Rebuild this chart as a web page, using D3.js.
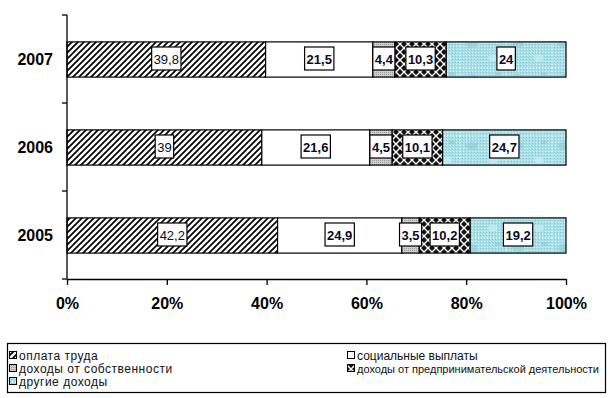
<!DOCTYPE html>
<html lang="ru">
<head>
  <meta charset="UTF-8">
  <title>Структура доходов</title>
  <script src="https://d3js.org/d3.v7.min.js"></script>
  <style>
    body { margin: 0; background: #fff; }
    svg { display: block; font-family: "Liberation Sans", Arial, sans-serif; }
  </style>
</head>
<body>
<div class="main"></div>
<script>

  // data
  const years = ["2007", "2006", "2005"];
  const seriesNames = ["оплата труда", "социальные выплаты", "доходы от собственности",
    "доходы от предпринимательской деятельности", "другие доходы"];
  const wages = [39.8, 39, 42.2];
  const social = [21.5, 21.6, 24.9];
  const property = [4.4, 4.5, 3.5];
  const business = [10.3, 10.1, 10.2];
  const other = [24, 24.7, 19.2];
  const xTicks = [0, 0.2, 0.4, 0.6, 0.8, 1];

  const seriesKeys = ["wages", "social", "property", "business", "other"];
  const fills = ["url(#hatch)", "#ffffff", "url(#dots)", "url(#diamonds)", "url(#water)"];

  var rows = years.map(function (yr, i) {
    return {year: yr, wages: wages[i], social: social[i], property: property[i], business: business[i], other: other[i]};
  });

  let width = 616;
  let height = 398;

  var svg = d3.select(".main")
          .append("svg")
          .attr("width", width)
          .attr("height", height);

  // fill patterns
  var defs = svg.append("defs");

  var hatch = defs.append("pattern").attr("id", "hatch")
          .attr("patternUnits", "userSpaceOnUse").attr("width", 6).attr("height", 6);
  hatch.append("rect").attr("width", 6).attr("height", 6).attr("fill", "#fff");
  hatch.append("path").attr("d", "M-1,1 L1,-1 M0,6 L6,0 M5,7 L7,5")
          .attr("stroke", "#000").attr("stroke-width", 1.7);

  var dots = defs.append("pattern").attr("id", "dots")
          .attr("patternUnits", "userSpaceOnUse").attr("width", 2).attr("height", 2);
  dots.append("rect").attr("width", 2).attr("height", 2).attr("fill", "#cfcfcf");
  dots.append("rect").attr("width", 1).attr("height", 1).attr("fill", "#9c9c9c");

  var diamonds = defs.append("pattern").attr("id", "diamonds")
          .attr("patternUnits", "userSpaceOnUse").attr("width", 8).attr("height", 8);
  diamonds.append("rect").attr("width", 8).attr("height", 8).attr("fill", "#fff");
  diamonds.append("path")
          .attr("d", "M4,1 L7,4 L4,7 L1,4 Z M0,-3 L3,0 L0,3 L-3,0 Z M8,-3 L11,0 L8,3 L5,0 Z M0,5 L3,8 L0,11 L-3,8 Z M8,5 L11,8 L8,11 L5,8 Z")
          .attr("fill", "#111");

  var water = defs.append("pattern").attr("id", "water")
          .attr("patternUnits", "userSpaceOnUse").attr("width", 46).attr("height", 34);
  water.append("rect").attr("width", 46).attr("height", 34).attr("fill", "#a9dfe7");
  var speck = defs.append("pattern").attr("id", "speck")
          .attr("patternUnits", "userSpaceOnUse").attr("width", 3).attr("height", 3);
  speck.append("rect").attr("width", 3).attr("height", 3).attr("fill", "#a9dfe7");
  speck.append("rect").attr("width", 1).attr("height", 1).attr("fill", "#d4f2f5");
  speck.append("rect").attr("x", 2).attr("y", 1).attr("width", 1).attr("height", 1).attr("fill", "#86c6d2");
  water.append("rect").attr("width", 46).attr("height", 34).attr("fill", "url(#speck)");
  water.append("ellipse").attr("cx", 12).attr("cy", 10).attr("rx", 6).attr("ry", 4)
          .attr("fill", "#93cfda").attr("opacity", 0.7);
  water.append("ellipse").attr("cx", 33).attr("cy", 24).attr("rx", 5).attr("ry", 3.5)
          .attr("fill", "#c4ecf1").attr("opacity", 0.8);
  water.append("ellipse").attr("cx", 38).attr("cy", 6).attr("rx", 3).attr("ry", 2)
          .attr("fill", "#8ccbd6").attr("opacity", 0.6);

  // scales
  var xScale = d3.scaleLinear().domain([0, 1]).range([67, 566]);
  var yScale = d3.scaleBand().domain(years).range([15, 279])
          .paddingInner(0.6).paddingOuter(0.3);

  var stack = d3.stack().keys(seriesKeys).offset(d3.stackOffsetExpand);
  var layers = stack(rows);

  // bars
  var layerG = svg.append("g").selectAll("g")
          .data(layers)
          .join("g")
          .attr("fill", function (d, i) { return fills[i]; });

  layerG.selectAll("rect")
          .data(function (d) { return d; })
          .join("rect")
          .attr("x", function (d) { return xScale(d[0]); })
          .attr("y", function (d) { return yScale(d.data.year) + 0.5; })
          .attr("width", function (d) { return xScale(d[1]) - xScale(d[0]); })
          .attr("height", yScale.bandwidth())
          .attr("stroke", "#000")
          .attr("stroke-width", 1.2);

  // boxed value labels
  layers.forEach(function (layer, si) {
    layer.forEach(function (d) {
      var cx = (xScale(d[0]) + xScale(d[1])) / 2;
      var cy = yScale(d.data.year) + yScale.bandwidth() / 2;
      var g = svg.append("g").attr("transform", "translate(" + cx + "," + cy + ")");
      var box = g.append("rect").attr("fill", "#fff").attr("stroke", "#000").attr("stroke-width", 1.2);
      var t = g.append("text")
              .attr("text-anchor", "middle")
              .attr("dy", "0.36em")
              .style("font-size", "13px")
              .style("font-weight", si == 0 ? "normal" : "bold")
              .attr("fill", "#0a0a1e")
              .text(String(d.data[layer.key]).replace(".", ","));
      var w = t.node().getComputedTextLength() + 4;
      box.attr("x", -w / 2).attr("y", -12).attr("width", w).attr("height", 23);
    });
  });

  // left axis with ticks between categories
  var axisG = svg.append("g").attr("stroke", "#000").attr("stroke-width", 1.3);
  axisG.append("line").attr("x1", 67).attr("x2", 67).attr("y1", 15).attr("y2", 279);
  var boundaries = [15].concat(years.slice(1).map(function (d) {
    return yScale(d) - yScale.step() * yScale.paddingInner() / 2;
  })).concat([279]);
  axisG.selectAll(".ytick").data(boundaries).join("line")
          .attr("class", "ytick")
          .attr("x1", 62).attr("x2", 67)
          .attr("y1", function (d) { return d; }).attr("y2", function (d) { return d; });

  svg.append("g").selectAll("text")
          .data(years)
          .join("text")
          .attr("x", 53)
          .attr("y", function (d) { return yScale(d) + yScale.bandwidth() / 2; })
          .attr("dy", "0.36em")
          .attr("text-anchor", "end")
          .style("font-size", "16px")
          .style("font-weight", "bold")
          .text(function (d) { return d; });

  // bottom axis
  var xAxis = d3.axisBottom(xScale)
          .tickValues(xTicks)
          .tickSize(6)
          .tickSizeOuter(0)
          .tickPadding(13)
          .tickFormat(d3.format(".0%"));

  var xg = svg.append("g").attr("transform", "translate(0,279)").call(xAxis);
  xg.select(".domain").attr("stroke-width", 1.3);
  xg.selectAll(".tick line").attr("stroke-width", 1.3);
  xg.selectAll("text")
          .attr("fill", "#000")
          .style("font-family", "'Liberation Sans', Arial, sans-serif")
          .style("font-size", "16px")
          .style("font-weight", "bold");

  // legend
  svg.append("rect").attr("x", 7.5).attr("y", 343.5).attr("width", 598).attr("height", 49)
          .attr("fill", "#fff").attr("stroke", "#000").attr("stroke-width", 1.2);

  var legendPos = [[9, 356], [347, 356], [9, 369], [347, 369], [9, 382]];
  var legend = svg.append("g")
          .selectAll("g")
          .data(seriesNames)
          .join("g")
          .attr("transform", function (d, i) { return "translate(" + legendPos[i][0] + "," + legendPos[i][1] + ")"; });

  legend.append("rect")
          .attr("x", 0.5).attr("y", -4.5).attr("width", 7).attr("height", 7)
          .attr("fill", function (d, i) { return fills[i]; })
          .attr("stroke", "#000").attr("stroke-width", 1);

  legend.append("text")
          .attr("x", 10)
          .attr("dy", "0.32em")
          .style("font-size", "12px")
          .style("letter-spacing", function (d, i) { return legendPos[i][0] > 100 ? "0px" : "0.5px"; })
          .attr("fill", "#111")
          .text(function (d) { return d; })
          .each(function (d, i) {
            // shrink a text that would run past the legend frame
            var avail = 603 - legendPos[i][0] - 10;
            var fs = 12;
            while (this.getComputedTextLength() > avail && fs > 8) {
              fs -= 0.25;
              d3.select(this).style("font-size", fs + "px");
            }
          });

</script>
</body>
</html>
